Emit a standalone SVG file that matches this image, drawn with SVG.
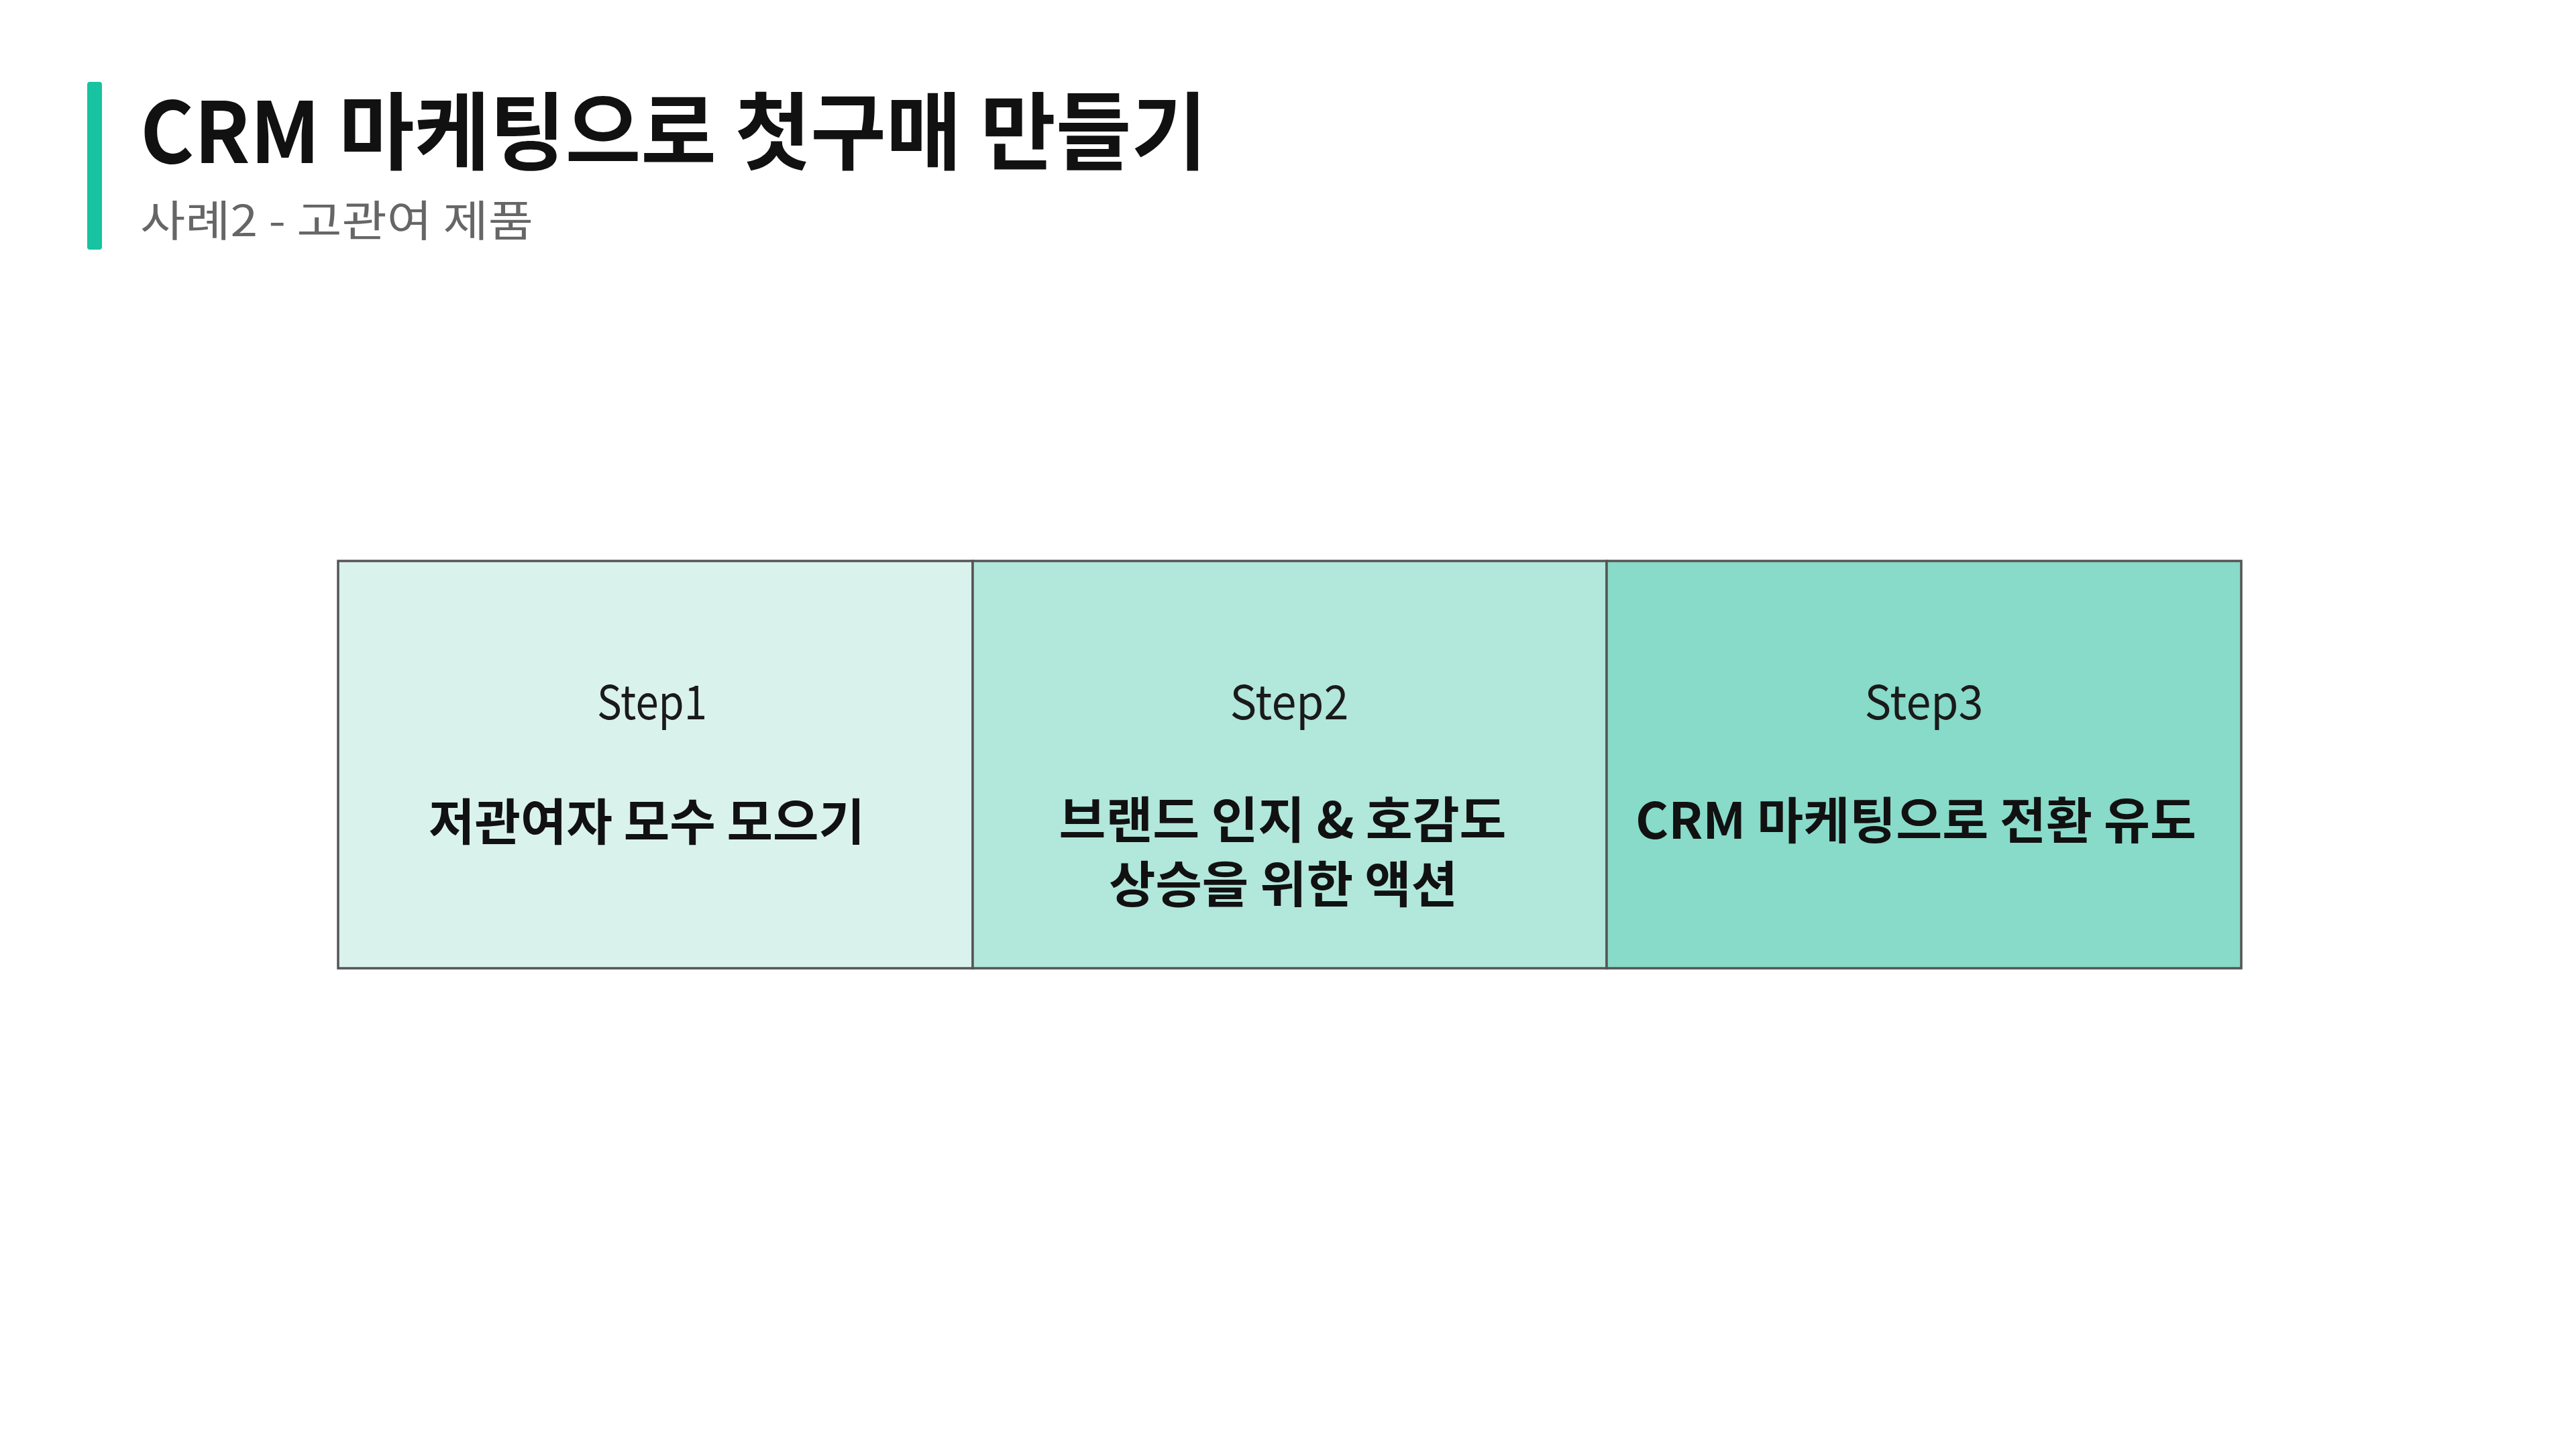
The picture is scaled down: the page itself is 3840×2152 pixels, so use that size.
<svg xmlns="http://www.w3.org/2000/svg" width="3840" height="2152" viewBox="0 0 3840 2152">
<style>
.kr{font-family:"Noto Sans CJK KR","Noto Sans",sans-serif}
.title{font-weight:700;font-size:126px;fill:#111}
.sub{font-weight:400;font-size:64px;fill:#666}
.step{font-weight:400;font-size:70px;fill:#1a1a1a}
.lbl{font-weight:700;font-size:74px;fill:#111}
.box{stroke:#555;stroke-width:3.5}
</style>
<rect width="3840" height="2152" fill="#ffffff"/>
<g id="header">
<rect x="130" y="122" width="22" height="250" rx="4" fill="#17C3A1"/>
<text class="kr title" x="209" y="243" textLength="1590" lengthAdjust="spacingAndGlyphs">CRM 마케팅으로 첫구매 만들기</text>
<text class="kr sub" x="209" y="352" textLength="586" lengthAdjust="spacingAndGlyphs">사례2 - 고관여 제품</text>
</g>
<g id="step1">
<rect class="box" x="504" y="836" width="946" height="607" fill="#DAF2EC"/>
<text class="kr step" x="972" y="1072" text-anchor="middle" textLength="164" lengthAdjust="spacingAndGlyphs">Step1</text>
<text class="kr lbl" x="964" y="1252" text-anchor="middle" textLength="650" lengthAdjust="spacingAndGlyphs">저관여자 모수 모으기</text>
</g>
<g id="step2">
<rect class="box" x="1450" y="836" width="945" height="607" fill="#B2E7DB"/>
<text class="kr step" x="1922" y="1072" text-anchor="middle" textLength="177" lengthAdjust="spacingAndGlyphs">Step2</text>
<text class="kr lbl" text-anchor="middle"><tspan x="1912" y="1249" textLength="667" lengthAdjust="spacingAndGlyphs">브랜드 인지 &amp; 호감도</tspan><tspan x="1913" y="1345" textLength="520" lengthAdjust="spacingAndGlyphs">상승을 위한 액션</tspan></text>
</g>
<g id="step3">
<rect class="box" x="2395" y="836" width="946" height="607" fill="#88DAC9"/>
<text class="kr step" x="2868" y="1072" text-anchor="middle" textLength="177" lengthAdjust="spacingAndGlyphs">Step3</text>
<text class="kr lbl" x="2856" y="1250" text-anchor="middle" textLength="836" lengthAdjust="spacingAndGlyphs">CRM 마케팅으로 전환 유도</text>
</g>
<g id="connectors"></g>
</svg>
